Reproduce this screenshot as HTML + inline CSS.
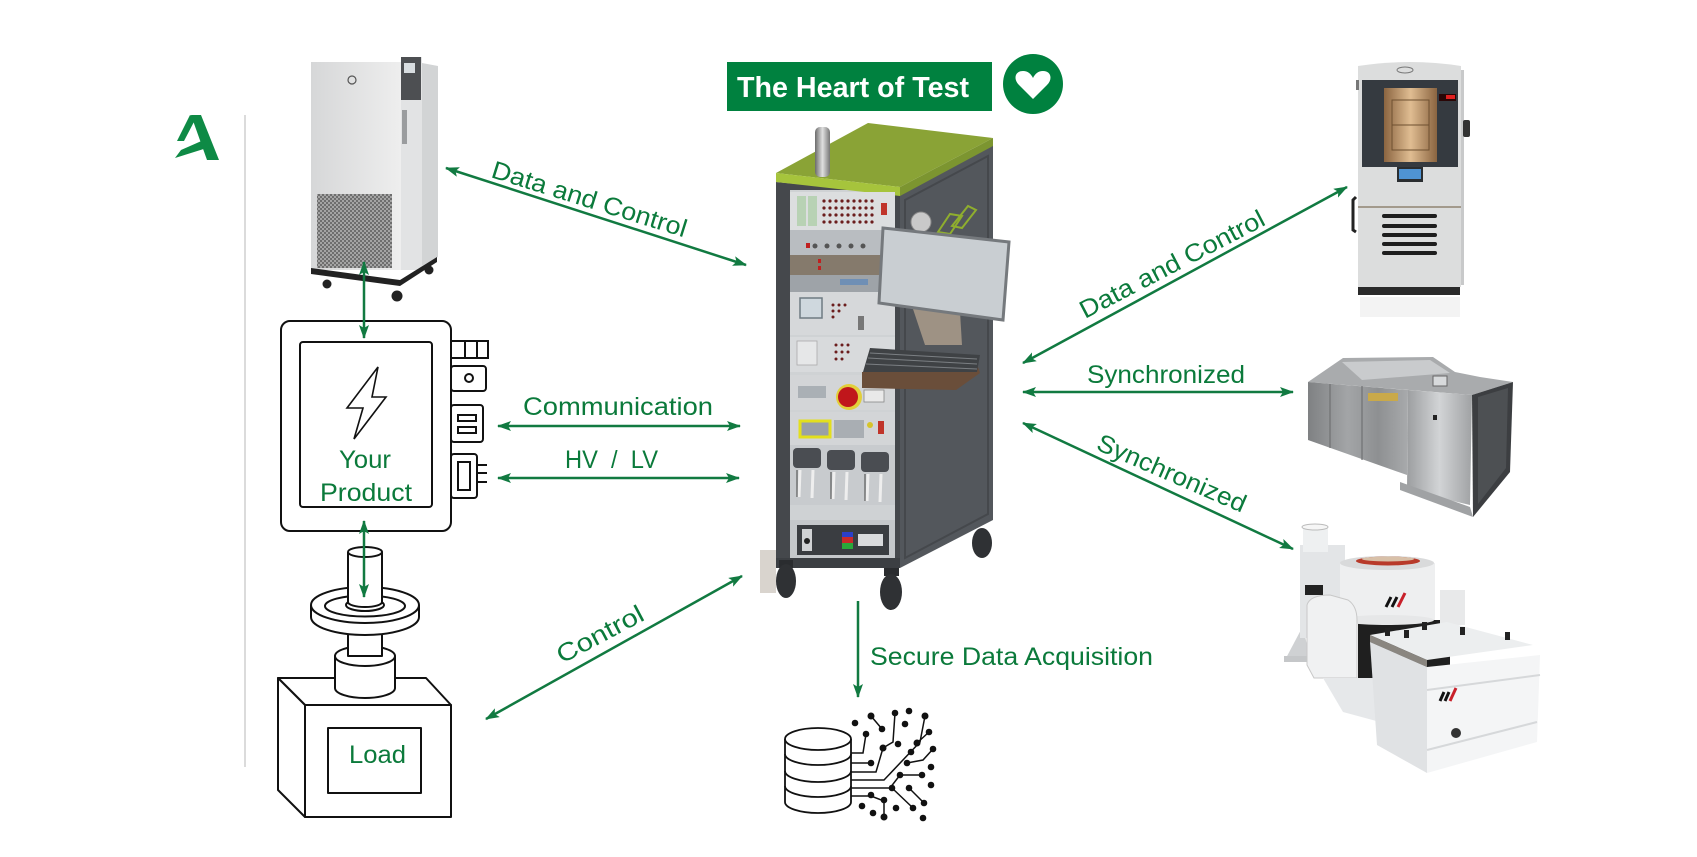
<!DOCTYPE html>
<html><head><meta charset="utf-8"><style>
html,body{margin:0;padding:0;background:#fff;}
svg{display:block;}
.lbl{font-family:"Liberation Sans",Arial,sans-serif;font-size:25px;fill:#0b7a3b;}
.ar{stroke:#117a41;stroke-width:2.5;fill:none;}
</style></head><body>
<svg width="1697" height="857" viewBox="0 0 1697 857" xmlns="http://www.w3.org/2000/svg">
<defs>
<marker id="ah" viewBox="0 0 14 10" refX="13" refY="5" markerWidth="14" markerHeight="10" markerUnits="userSpaceOnUse" orient="auto-start-reverse">
<path d="M0,0 L14,5 L0,10 L3,5 z" fill="#117a41"/>
</marker>
<pattern id="mesh" width="4" height="4" patternUnits="userSpaceOnUse">
<rect width="4" height="4" fill="#a4a4a4"/>
<rect width="2" height="2" fill="#6e6e6e"/>
<rect x="2" y="2" width="2" height="2" fill="#6e6e6e"/>
</pattern>
<linearGradient id="fr" x1="0" x2="1"><stop offset="0" stop-color="#d6d7d8"/><stop offset="1" stop-color="#eeeeee"/></linearGradient>
<linearGradient id="win" x1="0" x2="1"><stop offset="0" stop-color="#8a6440"/><stop offset="0.5" stop-color="#e0bd92"/><stop offset="1" stop-color="#8a6440"/></linearGradient>
<linearGradient id="steel" x1="0" x2="1"><stop offset="0" stop-color="#7f8183"/><stop offset="0.4" stop-color="#a3a5a7"/><stop offset="0.7" stop-color="#8e9092"/><stop offset="1" stop-color="#a8aaac"/></linearGradient>
<linearGradient id="steel2" x1="0" x2="1"><stop offset="0" stop-color="#9c9ea0"/><stop offset="0.5" stop-color="#d2d4d6"/><stop offset="1" stop-color="#a0a2a4"/></linearGradient>
<linearGradient id="ant" x1="0" x2="1"><stop offset="0" stop-color="#6b6b6b"/><stop offset="0.5" stop-color="#e0e0e0"/><stop offset="1" stop-color="#777"/></linearGradient>
</defs>

<!-- Logo -->
<g fill="#0e8a45">
<polygon points="191,115 201,115 219,160 207,160"/>
<polygon points="190,115 196,118 184,141 177,141"/>
<polygon points="175,158 181,150 206,139 210,147"/>
</g>
<line x1="245" y1="115" x2="245" y2="767" stroke="#cfcfcf" stroke-width="1.5"/>

<!-- Chiller -->
<g>
<polygon points="422,63 438,66 438,257 422,266" fill="#d2d4d5"/>
<rect x="401" y="57" width="21" height="213" fill="#e2e3e4"/>
<rect x="401" y="57" width="20" height="43" fill="#4d4f52"/>
<rect x="404" y="63" width="11" height="10" fill="#d8dde0"/>
<rect x="402" y="110" width="5" height="34" fill="#9a9c9e"/>
<rect x="311" y="62" width="90" height="208" fill="url(#fr)"/>
<circle cx="352" cy="80" r="4" fill="none" stroke="#555" stroke-width="1.2"/>
<rect x="317" y="194" width="75" height="74" fill="url(#mesh)"/>
<polygon points="311,268 400,280 437,257 437,262 400,286 311,274" fill="#222"/>
<circle cx="327" cy="284" r="4.5" fill="#222"/>
<circle cx="397" cy="296" r="5.5" fill="#222"/>
<circle cx="429" cy="270" r="4.5" fill="#222"/>
</g>

<!-- Your Product -->
<g fill="#fff" stroke="#111" stroke-width="2">
<rect x="281" y="321" width="170" height="210" rx="9"/>
<rect x="300" y="342" width="132" height="165" rx="3"/>
<rect x="451" y="341" width="37" height="17"/>
<line x1="465" y1="341" x2="465" y2="358"/>
<line x1="477" y1="341" x2="477" y2="358"/>
<rect x="451" y="366" width="35" height="25" rx="3"/>
<circle cx="469" cy="378" r="4"/>
<rect x="451" y="405" width="32" height="37" rx="3"/>
<rect x="458" y="415" width="18" height="6"/>
<rect x="458" y="427" width="18" height="6"/>
<rect x="451" y="454" width="26" height="44" rx="3"/>
<rect x="458" y="462" width="12" height="28"/>
<line x1="477" y1="465" x2="487" y2="465"/>
<line x1="477" y1="473" x2="487" y2="473"/>
<line x1="477" y1="482" x2="487" y2="482"/>
</g>
<path d="M378,367 L347,408 L363,408 L354,439 L386,397 L372,397 Z" fill="none" stroke="#111" stroke-width="1.6" stroke-linejoin="miter"/>
<text class="lbl" x="339" y="468" textLength="52" lengthAdjust="spacingAndGlyphs">Your</text>
<text class="lbl" x="320" y="501" textLength="92" lengthAdjust="spacingAndGlyphs">Product</text>

<!-- Load -->
<g fill="#fff" stroke="#111" stroke-width="2" stroke-linejoin="round">
<polygon points="278,678 426,678 451,705 305,705"/>
<polygon points="278,678 305,705 305,817 278,790"/>
<rect x="305" y="705" width="146" height="112"/>
<rect x="328" y="728" width="93" height="65"/>
<path d="M335,656 L335,688 A30,10 0 0 0 395,688 L395,656"/>
<ellipse cx="365" cy="656" rx="30" ry="10"/>
<rect x="348" y="622" width="34" height="34"/>
<path d="M311,605 L311,617 A54,18 0 0 0 419,617 L419,605"/>
<ellipse cx="365" cy="605" rx="54" ry="18"/>
<ellipse cx="365" cy="606" rx="40" ry="10.5"/>
<ellipse cx="365" cy="605" rx="19" ry="6"/>
<rect x="348" y="552" width="34" height="52" stroke="none"/>
<line x1="348" y1="552" x2="348" y2="604"/>
<line x1="382" y1="552" x2="382" y2="604"/>
<path d="M348,602 A17,5 0 0 0 382,602" fill="none"/>
<ellipse cx="365" cy="552" rx="17" ry="5"/>
</g>
<text class="lbl" x="349" y="763" textLength="57" lengthAdjust="spacingAndGlyphs">Load</text>

<!-- Heart of Test -->
<rect x="727" y="62" width="265" height="49" fill="#00813f"/>
<text x="737" y="97" font-family="Liberation Sans, Arial, sans-serif" font-weight="bold" font-size="29" fill="#fff" textLength="232" lengthAdjust="spacingAndGlyphs">The Heart of Test</text>
<circle cx="1033" cy="84" r="30" fill="#00813f"/>
<path d="M1033,99 L1019,85 C1013,79 1015,71 1023,71 C1028,71 1031,74 1033,78 C1035,74 1038,71 1043,71 C1051,71 1053,79 1047,85 Z" fill="#fff"/>

<!-- Rack -->
<g>
<rect x="760" y="550" width="16" height="43" fill="#d9d4ce"/>
<polygon points="900,194 993,145 993,520 900,568" fill="#53575c"/>
<polygon points="905,200 988,156 988,514 905,558" fill="none" stroke="#45484c" stroke-width="2"/>
<polygon points="776,182 900,194 900,568 776,562" fill="#45484c"/>
<rect x="790" y="190" width="105" height="368" fill="#cfd2d4"/>
<polygon points="776,173 868,123 993,138 900,187" fill="#8aa336"/>
<polygon points="776,173 900,187 900,196 776,182" fill="#a6c43c"/>
<polygon points="900,187 993,138 993,146 900,196" fill="#7c9530"/>
<rect x="815" y="127" width="15" height="50" rx="5" fill="url(#ant)"/>
<rect x="790" y="192" width="105" height="38" fill="#dcdedf"/>
<rect x="797" y="196" width="9" height="30" fill="#b8d2b4"/>
<rect x="808" y="196" width="9" height="30" fill="#b8d2b4"/>
<g fill="#6b1d1d">
<circle cx="824" cy="201" r="1.6"/><circle cx="830" cy="201" r="1.6"/><circle cx="836" cy="201" r="1.6"/><circle cx="842" cy="201" r="1.6"/><circle cx="848" cy="201" r="1.6"/><circle cx="854" cy="201" r="1.6"/><circle cx="860" cy="201" r="1.6"/><circle cx="866" cy="201" r="1.6"/><circle cx="872" cy="201" r="1.6"/>
<circle cx="824" cy="208" r="1.6"/><circle cx="830" cy="208" r="1.6"/><circle cx="836" cy="208" r="1.6"/><circle cx="842" cy="208" r="1.6"/><circle cx="848" cy="208" r="1.6"/><circle cx="854" cy="208" r="1.6"/><circle cx="860" cy="208" r="1.6"/><circle cx="866" cy="208" r="1.6"/><circle cx="872" cy="208" r="1.6"/>
<circle cx="824" cy="215" r="1.6"/><circle cx="830" cy="215" r="1.6"/><circle cx="836" cy="215" r="1.6"/><circle cx="842" cy="215" r="1.6"/><circle cx="848" cy="215" r="1.6"/><circle cx="854" cy="215" r="1.6"/><circle cx="860" cy="215" r="1.6"/><circle cx="866" cy="215" r="1.6"/><circle cx="872" cy="215" r="1.6"/>
<circle cx="824" cy="222" r="1.6"/><circle cx="830" cy="222" r="1.6"/><circle cx="836" cy="222" r="1.6"/><circle cx="842" cy="222" r="1.6"/><circle cx="848" cy="222" r="1.6"/><circle cx="854" cy="222" r="1.6"/><circle cx="860" cy="222" r="1.6"/><circle cx="866" cy="222" r="1.6"/><circle cx="872" cy="222" r="1.6"/>
</g>
<rect x="881" y="203" width="6" height="12" fill="#c0342a"/>
<rect x="790" y="230" width="105" height="25" fill="#b9bdc1"/>
<g fill="#555"><circle cx="815" cy="246" r="2.5"/><circle cx="827" cy="246" r="2.5"/><circle cx="839" cy="246" r="2.5"/><circle cx="851" cy="246" r="2.5"/><circle cx="863" cy="246" r="2.5"/></g>
<rect x="806" y="243" width="4" height="5" fill="#c02020"/>
<rect x="790" y="255" width="105" height="20" fill="#857a6c"/>
<rect x="818" y="259" width="3" height="4" fill="#c02020"/><rect x="818" y="266" width="3" height="4" fill="#c02020"/>
<rect x="790" y="275" width="105" height="17" fill="#9ea3a8"/>
<rect x="840" y="279" width="28" height="6" fill="#6f8fb5"/>
<rect x="790" y="292" width="105" height="43" fill="#d6d8da"/>
<rect x="800" y="298" width="22" height="20" fill="#cfd8de" stroke="#6f7a82" stroke-width="1.5"/>
<g fill="#6b1d1d"><circle cx="833" cy="305" r="1.5"/><circle cx="839" cy="305" r="1.5"/><circle cx="845" cy="305" r="1.5"/><circle cx="833" cy="311" r="1.5"/><circle cx="839" cy="311" r="1.5"/><circle cx="833" cy="317" r="1.5"/></g>
<rect x="858" y="316" width="6" height="14" fill="#777"/>
<rect x="790" y="337" width="105" height="35" fill="#d8dadc"/>
<rect x="797" y="341" width="20" height="24" fill="#e6e7e8" stroke="#aaa" stroke-width="0.8"/>
<g fill="#6b1d1d"><circle cx="836" cy="345" r="1.5"/><circle cx="842" cy="345" r="1.5"/><circle cx="848" cy="345" r="1.5"/><circle cx="836" cy="352" r="1.5"/><circle cx="842" cy="352" r="1.5"/><circle cx="848" cy="352" r="1.5"/><circle cx="836" cy="359" r="1.5"/><circle cx="842" cy="359" r="1.5"/></g>
<rect x="790" y="375" width="105" height="35" fill="#d3d5d7"/>
<rect x="798" y="386" width="28" height="12" fill="#aab0b5"/>
<circle cx="849" cy="397" r="13" fill="#e2cf3a"/>
<circle cx="848" cy="397" r="10" fill="#c0161b"/>
<rect x="864" y="390" width="20" height="12" fill="#e9e9e9" stroke="#888" stroke-width="0.8"/>
<rect x="790" y="412" width="105" height="33" fill="#d3d5d7"/>
<rect x="800" y="421" width="30" height="16" fill="#9aa0a6" stroke="#e3df1c" stroke-width="3"/>
<rect x="834" y="420" width="30" height="18" fill="#a9aeb3"/>
<circle cx="870" cy="425" r="3" fill="#d6c42a"/>
<rect x="878" y="421" width="6" height="13" fill="#c0342a"/>
<rect x="790" y="445" width="105" height="60" fill="#c8cbce"/>
<g fill="#4a4d52">
<rect x="793" y="448" width="28" height="20" rx="4"/><rect x="827" y="450" width="28" height="20" rx="4"/><rect x="861" y="452" width="28" height="20" rx="4"/>
</g>
<g stroke="#eee" stroke-width="3">
<line x1="800" y1="470" x2="799" y2="497"/><line x1="813" y1="470" x2="812" y2="498"/>
<line x1="834" y1="472" x2="833" y2="499"/><line x1="847" y1="472" x2="846" y2="500"/>
<line x1="868" y1="474" x2="867" y2="501"/><line x1="881" y1="474" x2="880" y2="502"/>
</g>
<g stroke="#444" stroke-width="1"><line x1="797" y1="470" x2="797" y2="497"/><line x1="831" y1="472" x2="831" y2="499"/><line x1="865" y1="474" x2="865" y2="501"/></g>
<rect x="790" y="505" width="105" height="15" fill="#cfd2d4"/>
<rect x="790" y="520" width="105" height="38" fill="#c5c8cb"/>
<rect x="797" y="525" width="92" height="30" fill="#3a3d41"/>
<rect x="802" y="529" width="10" height="22" fill="#d0d2d4"/>
<circle cx="807" cy="541" r="3" fill="#222"/>
<rect x="842" y="532" width="11" height="5" fill="#2a3fc8"/>
<rect x="842" y="537" width="11" height="6" fill="#c82a2a"/>
<rect x="842" y="543" width="11" height="6" fill="#2aa83a"/>
<rect x="858" y="534" width="25" height="12" fill="#d8dadc"/>
<rect x="776" y="558" width="124" height="10" fill="#3c3f43"/>
<circle cx="921" cy="222" r="10" fill="#c9c9c9" stroke="#888" stroke-width="1"/>
<path d="M938,232 L950,214 L962,216 L950,234 Z M952,226 L968,206 L976,210 L962,228 Z" fill="none" stroke="#8fae2e" stroke-width="2"/>
<polygon points="912,306 960,312 962,345 925,345" fill="#9e9284"/>
<polygon points="883,228 1009,242 1003,320 879,303" fill="#c9ced2" stroke="#75797d" stroke-width="3"/>
<polygon points="862,372 977,364 980,373 956,390 862,388" fill="#6a4e3a"/>
<polygon points="870,348 980,355 977,372 863,372" fill="#3f4245"/>
<g stroke="#7b7f83" stroke-width="1"><line x1="870" y1="353" x2="977" y2="359"/><line x1="868" y1="358" x2="977" y2="364"/><line x1="866" y1="364" x2="977" y2="369"/></g>
<rect x="779" y="560" width="14" height="8" fill="#2a2c2f"/>
<ellipse cx="786" cy="581" rx="10" ry="17" fill="#2f3134"/>
<rect x="884" y="568" width="15" height="8" fill="#2a2c2f"/>
<ellipse cx="891" cy="592" rx="11" ry="18" fill="#2f3134"/>
<ellipse cx="982" cy="543" rx="10" ry="15" fill="#2f3134"/>
</g>

<!-- Database icon -->
<g fill="#fff" stroke="#111" stroke-width="1.8">
<path d="M785,739 L785,802 A33,11 0 0 0 851,802 L851,739"/>
<ellipse cx="818" cy="739" rx="33" ry="11"/>
<path d="M785,754 A33,11 0 0 0 851,754" fill="none"/>
<path d="M785,771 A33,11 0 0 0 851,771" fill="none"/>
<path d="M785,786 A33,11 0 0 0 851,786" fill="none"/>
</g>
<g stroke="#111" stroke-width="1.5" fill="none">
<polyline points="851,753 863,753 866,734"/>
<polyline points="851,763 871,763"/>
<polyline points="851,772 876,772 883,748"/>
<polyline points="851,780 884,780 920,742 925,716"/>
<polyline points="851,788 890,788 900,775 922,775"/>
<polyline points="851,796 871,796 884,801 884,817"/>
<polyline points="895,713 893,742 883,748"/>
<polyline points="871,716 882,729"/>
<polyline points="933,749 923,760 907,763"/>
<polyline points="892,788 913,808"/>
<polyline points="909,788 924,803"/>
<polyline points="917,743 929,732"/>
</g>
<g fill="#111">
<circle cx="871" cy="716" r="3.5"/><circle cx="895" cy="713" r="3.3"/><circle cx="909" cy="711" r="3.3"/><circle cx="925" cy="716" r="3.5"/>
<circle cx="855" cy="723" r="3.3"/><circle cx="882" cy="729" r="3.3"/><circle cx="905" cy="724" r="3.3"/><circle cx="866" cy="734" r="3.3"/>
<circle cx="929" cy="732" r="3.3"/><circle cx="883" cy="748" r="3.5"/><circle cx="898" cy="744" r="3.3"/><circle cx="917" cy="743" r="3.5"/>
<circle cx="911" cy="752" r="3.3"/><circle cx="933" cy="749" r="3.3"/><circle cx="871" cy="763" r="3.3"/><circle cx="907" cy="763" r="3.3"/>
<circle cx="931" cy="767" r="3.3"/><circle cx="900" cy="775" r="3.3"/><circle cx="922" cy="775" r="3.3"/><circle cx="931" cy="785" r="3.3"/>
<circle cx="892" cy="788" r="3.3"/><circle cx="909" cy="788" r="3.3"/><circle cx="871" cy="795" r="3.3"/><circle cx="884" cy="800" r="3.3"/>
<circle cx="924" cy="803" r="3.3"/><circle cx="862" cy="806" r="3.3"/><circle cx="896" cy="808" r="3.3"/><circle cx="913" cy="808" r="3.3"/>
<circle cx="873" cy="813" r="3.3"/><circle cx="884" cy="817" r="3.5"/><circle cx="923" cy="818" r="3.3"/>
</g>

<!-- Environmental chamber -->
<g>
<rect x="1360" y="297" width="100" height="20" fill="#f3f3f3"/>
<path d="M1358,66 Q1410,58 1461,66 L1461,287 L1358,287 Z" fill="#dcdddd"/>
<rect x="1461" y="70" width="3" height="215" fill="#c8c9ca"/>
<ellipse cx="1405" cy="70" rx="8" ry="3" fill="none" stroke="#777" stroke-width="1"/>
<rect x="1362" y="80" width="96" height="87" fill="#353a40"/>
<rect x="1384" y="88" width="53" height="74" fill="url(#win)"/>
<g stroke="#6e5030" stroke-width="1" fill="none"><rect x="1392" y="100" width="37" height="50"/><line x1="1392" y1="125" x2="1429" y2="125"/></g>
<rect x="1439" y="94" width="17" height="7" fill="#2a0606"/>
<rect x="1446" y="95" width="9" height="4" fill="#e02020"/>
<rect x="1397" y="167" width="26" height="15" fill="#2a2d30"/>
<rect x="1399" y="169" width="22" height="10" fill="#4f93d3"/>
<line x1="1358" y1="207" x2="1461" y2="207" stroke="#a39a8c" stroke-width="2"/>
<g fill="#1e1e1e">
<rect x="1382" y="214" width="55" height="4" rx="2"/><rect x="1382" y="224" width="55" height="4" rx="2"/><rect x="1382" y="233" width="55" height="4" rx="2"/><rect x="1382" y="242" width="55" height="4" rx="2"/><rect x="1382" y="251" width="55" height="4" rx="2"/>
</g>
<rect x="1358" y="287" width="102" height="8" fill="#2a2a2a"/>
<rect x="1463" y="120" width="7" height="17" rx="2" fill="#333"/>
<path d="M1356,197 L1353,200 L1353,230 L1356,232" fill="none" stroke="#222" stroke-width="3"/>
<rect x="1356" y="80" width="3" height="10" fill="#777"/>
</g>

<!-- Salt spray chamber -->
<g>
<polygon points="1308,382 1343,358 1433,357 1455,372 1480,377 1513,382 1472,395" fill="#a9abad"/>
<polygon points="1342,362 1430,360 1450,373 1362,380" fill="#c9cbcd"/>
<polygon points="1308,382 1408,390 1407,475 1308,440" fill="url(#steel)"/>
<polygon points="1408,390 1472,395 1470,505 1407,490" fill="url(#steel2)"/>
<polygon points="1472,395 1513,382 1510,472 1473,517" fill="#3c3e41"/>
<polygon points="1478,397 1508,388 1506,468 1478,504" fill="#4d5053"/>
<polygon points="1400,482 1470,507 1473,517 1400,490" fill="#a0a2a4"/>
<g stroke="#6f7173" stroke-width="1.2"><line x1="1330" y1="384" x2="1330" y2="448"/><line x1="1362" y1="386" x2="1362" y2="460"/></g>
<rect x="1368" y="393" width="30" height="8" fill="#c9a94a"/>
<rect x="1433" y="376" width="14" height="10" fill="#d8dadc" stroke="#666" stroke-width="1"/>
<rect x="1433" y="415" width="4" height="5" fill="#222"/>
</g>

<!-- Shaker -->
<g>
<polygon points="1285,660 1303,626 1310,660" fill="#cfd1d3"/>
<rect x="1284" y="656" width="30" height="6" fill="#c5c7c9"/>
<rect x="1300" y="545" width="45" height="93" fill="#e3e5e7"/>
<rect x="1303" y="527" width="25" height="25" fill="#eef0f1"/>
<ellipse cx="1315" cy="527" rx="13" ry="3" fill="#f6f6f6" stroke="#bbb" stroke-width="1"/>
<rect x="1305" y="585" width="18" height="10" fill="#222"/>
<rect x="1358" y="620" width="92" height="58" fill="#1f1f1f"/>
<rect x="1440" y="590" width="25" height="35" fill="#e8e9ea"/>
<rect x="1340" y="563" width="95" height="57" fill="#eeeff0"/>
<ellipse cx="1387" cy="620" rx="47" ry="5" fill="#e6e7e8"/>
<ellipse cx="1387" cy="563" rx="47" ry="7" fill="#d9dadb"/>
<ellipse cx="1388" cy="561" rx="32" ry="4.5" fill="#b83a2a"/>
<ellipse cx="1388" cy="559" rx="26" ry="2.5" fill="#d8c0a8"/>
<path d="M1307,605 Q1310,595 1330,595 L1348,600 Q1357,606 1357,620 L1357,678 L1314,678 L1307,665 Z" fill="#f0f1f2" stroke="#c8c8c8" stroke-width="1"/>
<polygon points="1323,678 1377,678 1380,722 1343,712" fill="#e6e8ea"/>
<polygon points="1370,635 1447,622 1533,645 1427,660" fill="#eceeef"/>
<polygon points="1370,635 1427,660 1427,667 1370,642" fill="#8a8680"/>
<polygon points="1370,642 1427,667 1427,773 1377,745" fill="#e0e2e4"/>
<polygon points="1427,667 1540,655 1537,742 1427,773" fill="#f4f5f6"/>
<line x1="1427" y1="690" x2="1540" y2="675" stroke="#d6d8da" stroke-width="2"/>
<line x1="1427" y1="750" x2="1537" y2="722" stroke="#d6d8da" stroke-width="2"/>
<g fill="#222"><rect x="1385" y="628" width="5" height="8"/><rect x="1404" y="630" width="5" height="8"/><rect x="1422" y="622" width="5" height="8"/><rect x="1460" y="627" width="5" height="8"/><rect x="1505" y="632" width="5" height="8"/></g>
<g stroke-width="3"><line x1="1386" y1="607" x2="1391" y2="597" stroke="#111"/><line x1="1392" y1="607" x2="1397" y2="597" stroke="#111"/><line x1="1398" y1="607" x2="1405" y2="593" stroke="#c8202a"/>
<line x1="1440" y1="701" x2="1444" y2="692" stroke="#111"/><line x1="1445" y1="701" x2="1449" y2="692" stroke="#111"/><line x1="1450" y1="701" x2="1456" y2="688" stroke="#c8202a"/></g>
<circle cx="1456" cy="733" r="5" fill="#333"/>
</g>

<!-- Arrows -->
<g class="ar">
<line x1="446" y1="168" x2="746" y2="265" marker-start="url(#ah)" marker-end="url(#ah)"/>
<line x1="364" y1="262" x2="364" y2="338" marker-start="url(#ah)" marker-end="url(#ah)"/>
<line x1="498" y1="426" x2="740" y2="426" marker-start="url(#ah)" marker-end="url(#ah)"/>
<line x1="498" y1="478" x2="739" y2="478" marker-start="url(#ah)" marker-end="url(#ah)"/>
<line x1="364" y1="521" x2="364" y2="597" marker-start="url(#ah)" marker-end="url(#ah)"/>
<line x1="486" y1="719" x2="742" y2="576" marker-start="url(#ah)" marker-end="url(#ah)"/>
<line x1="858" y1="601" x2="858" y2="697" marker-end="url(#ah)"/>
<line x1="1023" y1="363" x2="1347" y2="187" marker-start="url(#ah)" marker-end="url(#ah)"/>
<line x1="1023" y1="392" x2="1293" y2="392" marker-start="url(#ah)" marker-end="url(#ah)"/>
<line x1="1023" y1="423" x2="1293" y2="549" marker-start="url(#ah)" marker-end="url(#ah)"/>
</g>

<!-- Labels -->
<text class="lbl" transform="translate(490,177) rotate(17.3)" textLength="203" lengthAdjust="spacingAndGlyphs">Data and Control</text>
<text class="lbl" x="523" y="415" textLength="190" lengthAdjust="spacingAndGlyphs">Communication</text>
<text class="lbl" x="565" y="468" textLength="93" lengthAdjust="spacingAndGlyphs" style="white-space:pre">HV  /  LV</text>
<text class="lbl" transform="translate(562,664) rotate(-28)" textLength="95" lengthAdjust="spacingAndGlyphs">Control</text>
<text class="lbl" x="870" y="665" textLength="283" lengthAdjust="spacingAndGlyphs">Secure Data Acquisition</text>
<text class="lbl" transform="translate(1085,319) rotate(-27.5)" textLength="205" lengthAdjust="spacingAndGlyphs">Data and Control</text>
<text class="lbl" x="1087" y="383" textLength="158" lengthAdjust="spacingAndGlyphs">Synchronized</text>
<text class="lbl" transform="translate(1095,449) rotate(23.5)" textLength="160" lengthAdjust="spacingAndGlyphs">Synchronized</text>
</svg>
</body></html>
